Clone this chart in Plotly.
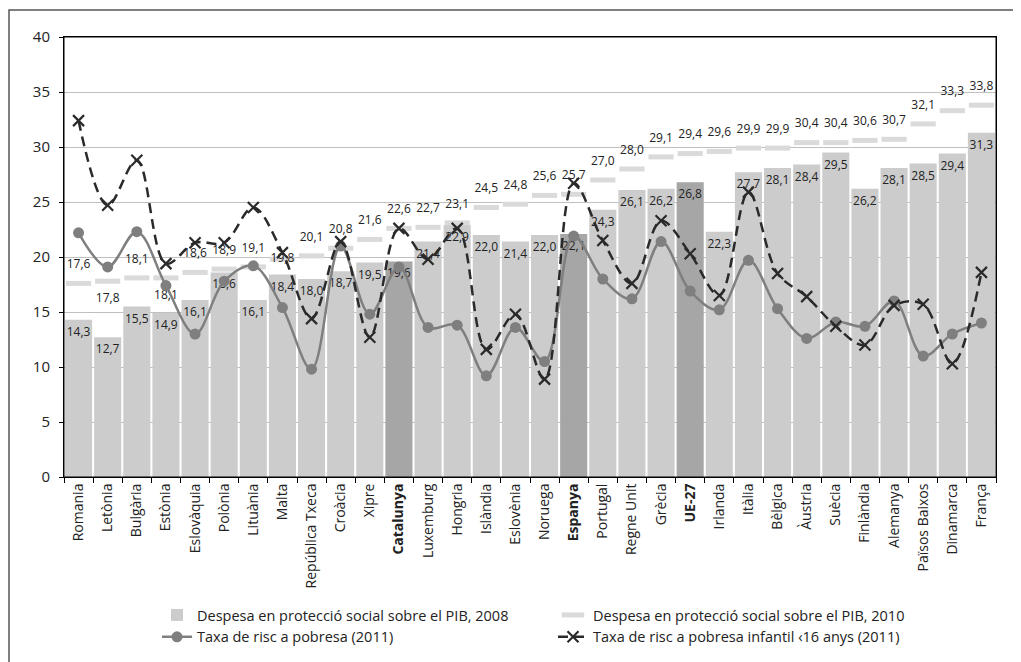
import plotly.graph_objects as go

categories = ["Romania", "Letònia", "Bulgària", "Estònia", "Eslovàquia", "Polònia", "Lituània",
              "Malta", "República Txeca", "Croàcia", "Xipre", "Catalunya", "Luxemburg", "Hongria",
              "Islàndia", "Eslovènia", "Noruega", "Espanya", "Portugal", "Regne Unit", "Grècia",
              "UE-27", "Irlanda", "Itàlia", "Bèlgica", "Àustria", "Suècia", "Finlàndia",
              "Alemanya", "Països Baixos", "Dinamarca", "França"]
highlight = ["Catalunya", "Espanya", "UE-27"]

spend_2008 = [14.3, 12.7, 15.5, 14.9, 16.1, 18.6, 16.1, 18.4, 18.0, 18.7, 19.5, 19.6, 21.4, 22.9,
              22.0, 21.4, 22.0, 22.1, 24.3, 26.1, 26.2, 26.8, 22.3, 27.7, 28.1, 28.4, 29.5, 26.2,
              28.1, 28.5, 29.4, 31.3]
spend_2010 = [17.6, 17.8, 18.1, 18.1, 18.6, 18.9, 19.1, 19.8, 20.1, 20.8, 21.6, 22.6, 22.7, 23.1,
              24.5, 24.8, 25.6, 25.7, 27.0, 28.0, 29.1, 29.4, 29.6, 29.9, 29.9, 30.4, 30.4, 30.6,
              30.7, 32.1, 33.3, 33.8]
poverty_2011 = [22.2, 19.1, 22.3, 17.4, 13.0, 17.8, 19.2, 15.4, 9.8, 21.0, 14.8, 19.1, 13.6, 13.8,
                9.2, 13.6, 10.5, 21.9, 18.0, 16.2, 21.4, 16.9, 15.2, 19.7, 15.3, 12.6, 14.1, 13.7,
                16.0, 11.0, 13.0, 14.0]
child_poverty_2011 = [32.4, 24.7, 28.8, 19.4, 21.3, 21.3, 24.5, 20.4, 14.4, 21.4, 12.7, 22.6, 19.8,
                      22.6, 11.6, 14.8, 8.9, 26.7, 21.5, 17.6, 23.3, 20.3, 16.5, 25.9, 18.5, 16.4,
                      13.7, 12.0, 15.6, 15.7, 10.3, 18.6]
y_ticks = [0, 5, 10, 15, 20, 25, 30, 35, 40]

def fmt(v):
    return f"{v:.1f}".replace(".", ",")

FONT = "Open Sans"
tick_text = [f"<b>{c}</b>" if c in highlight else c for c in categories]
bar_colors = ["#a6a6a6" if c in highlight else "#cccccc" for c in categories]
label_pos = ["top center"] * len(categories)
label_pos[1] = "bottom center"
label_pos[3] = "bottom center"
label_pos[7] = "middle center"

# figure geometry (page body adds an 8px offset)
ML, MT, PW, PH = 56, 29, 932, 440
W, H = 1021, 662

fig = go.Figure()
fig.add_trace(go.Bar(
    x=categories, y=spend_2008, name="Despesa en protecció social sobre el PIB, 2008",
    marker=dict(color=bar_colors, line=dict(width=0)),
    text=[fmt(v) for v in spend_2008], textposition="inside", insidetextanchor="end",
    textangle=0, constraintext="none",
    textfont=dict(family=FONT, size=12, color="#222222"),
))
fig.add_trace(go.Scatter(
    x=categories, y=spend_2010, name="Despesa en protecció social sobre el PIB, 2010",
    mode="markers+text",
    marker=dict(symbol="line-ew", size=18, line=dict(width=5, color="#dadada"), color="#dadada"),
    text=[fmt(v) for v in spend_2010], textposition=label_pos,
    textfont=dict(family=FONT, size=12, color="#222222"),
    cliponaxis=False,
))
fig.add_trace(go.Scatter(
    x=categories, y=poverty_2011, name="Taxa de risc a pobresa (2011)",
    mode="lines+markers", line=dict(color="#7f7f7f", width=2.5, shape="spline", smoothing=1),
    marker=dict(symbol="circle", size=11, color="#7f7f7f"),
))
fig.add_trace(go.Scatter(
    x=categories, y=child_poverty_2011, name="Taxa de risc a pobresa infantil ‹16 anys (2011)",
    mode="lines+markers",
    line=dict(color="#2a2a2a", width=2.5, dash="10px,6px", shape="spline", smoothing=1),
    marker=dict(symbol="x-thin", size=11, line=dict(width=2.2, color="#2a2a2a"), color="#2a2a2a"),
))

fig.update_layout(
    width=W, height=H,
    margin=dict(l=ML, r=W - ML - PW, t=MT, b=H - MT - PH),
    paper_bgcolor="white", plot_bgcolor="white",
    bargap=0.07,
    font=dict(family=FONT, size=13, color="#222222"),
    showlegend=True,
    legend=dict(orientation="h", xref="container", yref="container",
                x=149 / W, y=1 - 591 / H, xanchor="left", yanchor="top",
                entrywidth=351, entrywidthmode="pixels", tracegroupgap=0,
                font=dict(family=FONT, size=14.5, color="#222222"), itemwidth=30,
                bgcolor="rgba(0,0,0,0)"),
    shapes=[
        dict(type="rect", xref="paper", yref="paper",
             x0=(1 - ML) / PW, x1=(W + 20 - ML) / PW,
             y0=(MT + PH - (H + 20)) / PH, y1=(MT + PH - 2) / PH,
             line=dict(color="#555555", width=1.5), layer="below"),
        dict(type="rect", xref="paper", yref="paper", x0=0, x1=1, y0=0, y1=1,
             line=dict(color="black", width=1), layer="above"),
    ],
)
fig.update_xaxes(
    type="category", range=[-0.5, len(categories) - 0.5],
    tickmode="array", tickvals=categories, ticktext=tick_text,
    tickangle=-90, tickson="boundaries", ticks="outside", ticklen=5, tickcolor="black",
    showline=True, linecolor="black", linewidth=1, mirror=True,
    tickfont=dict(family=FONT, size=14, color="#222222"), showgrid=False,
    automargin=False,
)
fig.update_yaxes(
    range=[0, 40], tickmode="array", tickvals=y_ticks, ticks="outside", ticklen=4,
    tickcolor="black", showline=True, linecolor="black", linewidth=1, mirror=True,
    showgrid=True, gridcolor="#c0c0c0", gridwidth=1, zeroline=False,
    tickfont=dict(family=FONT, size=15, color="#222222"), ticklabelstandoff=6,
    automargin=False,
)

fig.write_html("out.html")
